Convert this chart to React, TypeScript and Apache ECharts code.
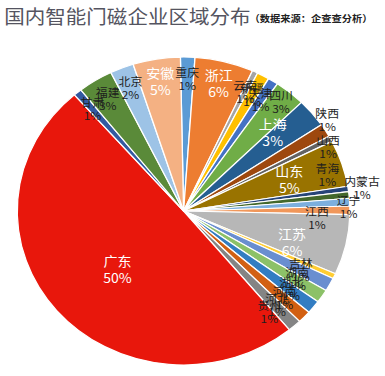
import React, { useEffect, useRef } from 'react';
import * as echarts from 'echarts';

// Data (clockwise from the top)
const provinces = ['重庆', '浙江', '云南', '新疆', '天津', '四川', '上海', '陕西', '山西', '山东', '青海', '内蒙古', '辽宁', '江西', '江苏', '吉林', '湖南', '湖北', '河南', '河北', '贵州', '广东', '甘肃', '福建', '北京', '安徽'];
const shares = [1.4, 5.7, 0.55, 1.2, 1.0, 3.0, 3.0, 1.4, 0.6, 4.9, 0.55, 0.7, 0.8, 0.9, 6.3, 0.55, 1.4, 1.4, 1.4, 1.3, 1.3, 49.6, 0.8, 3.4, 2.3, 4.6];
const colors = ['#5B9BD5', '#ED7D31', '#A5A5A5', '#FFC000', '#4472C4', '#70AD47', '#255E91', '#9E480E', '#636363', '#997300', '#264478', '#43682B', '#7CAFDD', '#F1975A', '#B7B7B7', '#FFCD33', '#698ED0', '#8CC168', '#327DC2', '#D26012', '#848484', '#E8170C', '#335AA1', '#5A8A39', '#9DC3E6', '#F4B183'];
const titleText = '国内智能门磁企业区域分布';
const sourceText = '（数据来源：企查查分析）';

// label groups (which ring the label sits on)
const whiteLabels = ['浙江', '安徽', '上海', '山东', '江苏', '广东'];
const bandLabels = ['重庆', '浙江', '云南', '新疆', '天津', '四川', '甘肃', '福建', '北京', '安徽', '青海', '江西'];
const lowLabels = ['吉林', '湖南', '湖北', '河南', '河北', '贵州'];
const midLabels = ['上海', '山东', '江苏'];
const innerLabels = ['广东'];
const edgeLabels = ['陕西', '山西', '内蒙古', '辽宁'];

// small label nudges (chart px), like Excel's best-fit placement
const nudges: Record<string, [number, number]> = {
  陕西: [0, -10],
  山西: [-4, 9],
  青海: [2, -17],
  内蒙古: [10, -7],
  辽宁: [-3, 5],
  江西: [-9, 7],
  上海: [3, -14],
  江苏: [0, 8],
  广东: [7.5, 0],
  四川: [5.5, -7],
  吉林: [-2, 7],
  湖南: [-2, 9],
  湖北: [-2, 10],
  河南: [-2, 11],
  河北: [-2, 10],
  贵州: [-2, 10],
};

const FONT = '"Noto Sans CJK SC", "Noto Sans", sans-serif';
const CENTER = [170, 211];
const START = 91.1;

function labelSeries(radius: any, names: string[]) {
  return {
    type: 'pie',
    radius,
    center: CENTER,
    startAngle: START,
    clockwise: true,
    silent: true,
    avoidLabelOverlap: false,
    labelLayout: (p: any) => {
      const nd = nudges[provinces[p.dataIndex]] || [0, 0];
      return { hideOverlap: false, dx: nd[0], dy: nd[1] };
    },
    emphasis: { disabled: true },
    itemStyle: { color: 'rgba(0,0,0,0)', borderWidth: 0 },
    labelLine: { show: false },
    data: provinces.map((n, i) => {
      const white = whiteLabels.includes(n);
      return {
        name: n,
        value: shares[i],
        label: {
          show: names.includes(n),
          position: 'inside',
          formatter: (p: any) => `${p.name}\n${Math.round(p.percent)}%`,
          color: white ? '#ffffff' : '#1e1e1e',
          fontSize: white ? 13 : 11,
          lineHeight: white ? 17 : 13,
          fontFamily: FONT,
        },
      };
    }),
  };
}

export default function App() {
  const ref = useRef<HTMLDivElement>(null);
  useEffect(() => {
    if (!ref.current) return;
    const chart = echarts.init(ref.current, null, { renderer: 'svg' });
    chart.setOption({
      animation: false,
      backgroundColor: '#ffffff',
      title: [
        {
          text: titleText,
          left: 4,
          top: 6,
          padding: 0,
          textStyle: { fontSize: 19, fontWeight: 'normal', color: '#545460', fontFamily: FONT },
        },
        {
          text: sourceText,
          left: 231,
          top: 13,
          padding: 0,
          textStyle: { fontSize: 9.5, fontWeight: 'bold', color: '#222222', fontFamily: FONT },
        },
      ],
      series: [
        {
          type: 'pie',
          radius: 154,
          center: CENTER,
          startAngle: START,
          clockwise: true,
          silent: true,
          avoidLabelOverlap: false,
          emphasis: { disabled: true },
          label: { show: false },
          labelLine: { show: false },
          itemStyle: { borderColor: '#ffffff', borderWidth: 1.2 },
          data: provinces.map((n, i) => ({ name: n, value: shares[i], itemStyle: { color: colors[i] } })),
        },
        labelSeries([105, 154], bandLabels),
        labelSeries([90, 148], lowLabels),
        labelSeries([0, 200], midLabels),
        labelSeries([0, 174], innerLabels),
        labelSeries([150, 156], edgeLabels),
      ],
    });
    return () => chart.dispose();
  }, []);
  return (
    <div style={{ position: 'absolute', left: 0, top: 0, width: 385, height: 376, overflow: 'hidden', background: '#fff' }}>
      <div
        ref={ref}
        style={{ width: 356.5, height: 376, transform: 'scaleX(1.08)', transformOrigin: '0 0' }}
      />
    </div>
  );
}
